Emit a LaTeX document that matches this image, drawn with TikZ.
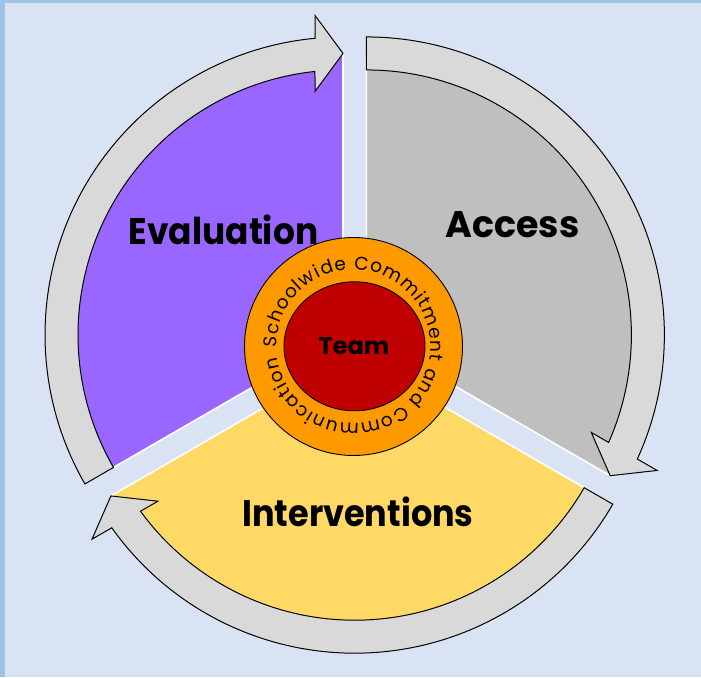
\documentclass[tikz,border=0pt]{standalone}
\usepackage{fontspec}
\setmainfont{Poppins}
\usetikzlibrary{calc,decorations.text,shapes.geometric}
\definecolor{bgblue}{HTML}{DAE3F3}
\definecolor{edgeblue}{HTML}{9DC3E6}
\definecolor{evalpurple}{HTML}{9966FF}
\definecolor{accessgray}{HTML}{BFBFBF}
\definecolor{intyellow}{HTML}{FFD966}
\definecolor{bandgray}{HTML}{D9D9D9}
\definecolor{ringorange}{HTML}{FF9900}
\definecolor{teamred}{HTML}{C00000}
\newcommand{\ringfont}{\fontsize{18.5}{20}\selectfont}
\tikzset{
  sectorstyle/.style={draw=white, line width=1.6pt, line join=round},
  bandstyle/.style={fill=bandgray, draw=black, line width=1pt, line join=miter},
  labelstyle/.style={font=\fontsize{37}{40}\selectfont\bfseries, text=black, inner sep=0pt, anchor=base},
}
\newcommand{\cyclearrow}[3]{%
  \draw[bandstyle] ($(#1)+(#2:265)$) arc[start angle=#2, end angle=#3+6.07, radius=265]
    -- ($(#1)+(#3:243.5)+(#3+90:28)$) -- ($(#1)+(#3:281.5)$) -- ($(#1)+(#3:319.5)+(#3+90:28)$)
    -- ($(#1)+(#3+5.39:298)$) arc[start angle=#3+5.39, end angle=#2, radius=298] -- cycle;
}
\begin{document}
\begin{tikzpicture}[x=1pt,y=1pt]
  \useasboundingbox (0,0) rectangle (701,677);
  \fill[edgeblue] (0,0) rectangle (701,677);
  \fill[bgblue] (5,0) rectangle (701,674);
  \coordinate (C) at (354.7,335.3);
  \coordinate (Vp) at ($(C)+(150:13.5)$);
  \coordinate (Vg) at ($(C)+(30:13.5)$);
  \coordinate (Vy) at ($(C)+(270:13.5)$);
  % sectors
  \filldraw[sectorstyle, fill=evalpurple] (Vp) -- ($(Vp)+(90:280)$) arc[start angle=90, end angle=210, radius=280] -- cycle;
  \filldraw[sectorstyle, fill=accessgray] (Vg) -- ($(Vg)+(-30:280)$) arc[start angle=-30, end angle=90, radius=280] -- cycle;
  \filldraw[sectorstyle, fill=intyellow] (Vy) -- ($(Vy)+(210:280)$) arc[start angle=210, end angle=330, radius=280] -- cycle;
  % cycle arrows
  \cyclearrow{Vp}{210}{90}
  \cyclearrow{Vg}{90}{-30}
  \cyclearrow{Vy}{-30}{-150}
  % labels
  \node[labelstyle] (evaluation) at (223.5,432) {\scalebox{0.93}[1]{Evaluation}};
  \node[labelstyle] (access) at (512.5,439) {\scalebox{0.985}[1]{Access}};
  \node[labelstyle] (interventions) at (358,150) {\scalebox{0.905}[1]{Interventions}};
  % centre
  \coordinate (R) at (353.5,330.5);
  \node[circle, draw=black, fill=ringorange, line width=0.9pt, minimum size=218pt, inner sep=0pt] (ring) at (R) {};
  \node[ellipse, draw=black, fill=teamred, line width=0.9pt, minimum width=141pt, minimum height=129pt, inner sep=0pt] (teamdisc) at (354.5,330.7) {};
  \node[font=\fontsize{24}{26}\selectfont\bfseries, text=black, inner sep=0pt, anchor=base] (team) at (354,322) {Team};
  \path[decorate, decoration={text along path, text={|\ringfont|Schoolwide Commitment and Communication}, text align=fit to path}]
    ($(R)+(181:77)$) arc[start angle=181, end angle=-172, radius=77];
\end{tikzpicture}
\end{document}
